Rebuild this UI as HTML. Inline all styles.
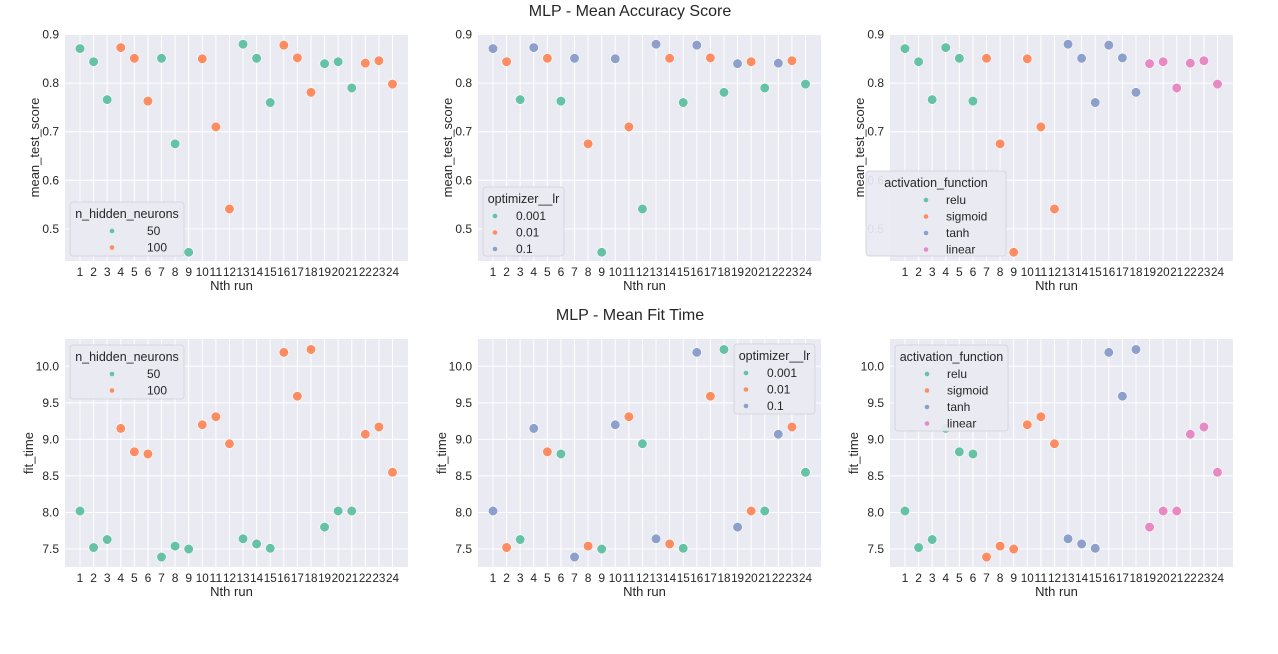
<!DOCTYPE html>
<html><head><meta charset="utf-8">
<style>
html,body{margin:0;padding:0;background:#fff;}
svg{display:block;font-family:"Liberation Sans",Arial,sans-serif;}
</style></head>
<body>
<svg id="fig" width="1278" height="654" viewBox="0 0 1278 654" xmlns="http://www.w3.org/2000/svg">
<text x="630" y="16" text-anchor="middle" font-size="16" fill="#262626">MLP - Mean Accuracy Score</text>
<text x="630" y="320" text-anchor="middle" font-size="16" fill="#262626">MLP - Mean Fit Time</text>
</svg>
<script>
const runs = [1,2,3,4,5,6,7,8,9,10,11,12,13,14,15,16,17,18,19,20,21,22,23,24];
const accuracy = [0.871,0.844,0.766,0.873,0.851,0.763,0.851,0.675,0.452,0.850,0.710,0.541,0.880,0.851,0.760,0.878,0.852,0.781,0.840,0.844,0.790,0.841,0.846,0.798];
const fitTime = [8.02,7.52,7.63,9.15,8.83,8.80,7.39,7.54,7.50,9.20,9.31,8.94,7.64,7.57,7.51,10.19,9.59,10.23,7.80,8.02,8.02,9.07,9.17,8.55];
const hiddenNeurons = [50,50,50,100,100,100,50,50,50,100,100,100,50,50,50,100,100,100,50,50,50,100,100,100];
const learningRate = [0.1,0.01,0.001,0.1,0.01,0.001,0.1,0.01,0.001,0.1,0.01,0.001,0.1,0.01,0.001,0.1,0.01,0.001,0.1,0.01,0.001,0.1,0.01,0.001];
const activation = ['relu','relu','relu','relu','relu','relu','sigmoid','sigmoid','sigmoid','sigmoid','sigmoid','sigmoid','tanh','tanh','tanh','tanh','tanh','tanh','linear','linear','linear','linear','linear','linear'];
const hiddenLevels = [50,100];
const lrLevels = [0.001,0.01,0.1];
const actLevels = ['relu','sigmoid','tanh','linear'];
const accTicks = [0.5,0.6,0.7,0.8,0.9];
const accTickLabels = ['0.5','0.6','0.7','0.8','0.9'];
const fitTicks = [7.5,8.0,8.5,9.0,9.5,10.0];
const fitTickLabels = ['7.5','8.0','8.5','9.0','9.5','10.0'];

const palette = ['#66c2a5','#fc8d62','#8da0cb','#e78ac3'];
const NS = 'http://www.w3.org/2000/svg';
const svg = document.getElementById('fig');
function mk(tag, attrs, parent){ const e=document.createElementNS(NS,tag); for(const k in attrs) e.setAttribute(k,attrs[k]); (parent||svg).appendChild(e); return e; }

function chart(cfg){
  const g = mk('g',{});
  
  
  const L=cfg.x0, R=cfg.x0+343, T=cfg.top, B=cfg.bottom;
  const bg = mk('rect',{x:L,y:T,width:R-L,height:B-T,fill:'#eaeaf2'},g);
  
  
  const xs = i => L+15 + (i)*(312.5/23);
  const ys = v => T + (cfg.ymax - v)/(cfg.ymax-cfg.ymin)*(B-T);
  runs.forEach((r,i)=>{ mk('line',{x1:xs(i),x2:xs(i),y1:T,y2:B,stroke:'#fff','stroke-width':1},g);
    const attrs={x:xs(i),y:B+15,'text-anchor':'middle','font-size':12,fill:'#262626'};
    if(r>=10){ attrs.textLength=13; attrs.lengthAdjust='spacingAndGlyphs'; }
    const t=mk('text',attrs,g); t.textContent=r;
    
     });
  cfg.ticks.forEach((v,i)=>{ mk('line',{x1:L,x2:R,y1:ys(v),y2:ys(v),stroke:'#fff','stroke-width':1},g);
    const t=mk('text',{x:L-6,y:ys(v)+4,'text-anchor':'end','font-size':12,fill:'#262626'},g); t.textContent=cfg.tickLabels[i];
    
     });
  const xl=mk('text',{x:(L+R)/2-5,y:B+29,'text-anchor':'middle','font-size':13,fill:'#262626'},g); xl.textContent='Nth run';
  
  
  const yx=L-cfg.ylabOff, yy=(T+B)/2;
  const yl=mk('text',{x:yx,y:yy,'text-anchor':'middle','font-size':13,fill:'#262626',transform:`rotate(-90 ${yx} ${yy})`},g); yl.textContent=cfg.ylabel;
  
  
  cfg.values.forEach((v,i)=>{
    const c = palette[cfg.levels.indexOf(cfg.hue[i])];
    const p=mk('circle',{cx:xs(i),cy:ys(v),r:4.8,fill:c,stroke:'#fff','stroke-width':0.6},g);
    
    
  });
  const lg=cfg.legend;
  const lgG=mk('g',{},g);
  
  
  mk('rect',{x:lg.x,y:lg.y,width:lg.w,height:lg.h,rx:3,fill:'#eaeaf2','fill-opacity':0.93,stroke:'#d0d0d8','stroke-width':0.8},lgG);
  const lt=mk('text',{x:lg.x+lg.w/2,y:lg.y+16,'text-anchor':'middle','font-size':12.5,fill:'#262626'},lgG); lt.textContent=cfg.hueTitle;
  
  
  cfg.levels.forEach((lv,k)=>{
    const yy=lg.y+33+k*16.5;
    mk('circle',{cx:lg.x+lg.dotX,cy:yy-4,r:2.3,fill:palette[k]},lgG);
    const e=mk('text',{x:lg.x+lg.textX,y:yy,'font-size':12,fill:'#262626'},lgG); e.textContent=String(lv);
    
    
  });
}
const accCfg={top:34,bottom:261,ymin:0.434,ymax:0.901,ticks:accTicks,tickLabels:accTickLabels,values:accuracy,ylabel:'mean_test_score',ylabOff:26};
const fitCfg={top:339,bottom:567,ymin:7.254,ymax:10.373,ticks:fitTicks,tickLabels:fitTickLabels,values:fitTime,ylabel:'fit_time',ylabOff:32};
chart(Object.assign({},accCfg,{name:'accuracy-by-hidden-neurons',x0:65,hue:hiddenNeurons,levels:hiddenLevels,hueTitle:'n_hidden_neurons',legend:{x:70,y:202,w:114,h:54,dotX:42,textX:77}}));
chart(Object.assign({},accCfg,{name:'accuracy-by-learning-rate',x0:478,hue:learningRate,levels:lrLevels,hueTitle:'optimizer__lr',legend:{x:483,y:187,w:81,h:69,dotX:12,textX:33}}));
chart(Object.assign({},accCfg,{name:'accuracy-by-activation',x0:890,hue:activation,levels:actLevels,hueTitle:'activation_function',legend:{x:866,y:171,w:140,h:85,dotX:60,textX:80}}));
chart(Object.assign({},fitCfg,{name:'fit-time-by-hidden-neurons',x0:65,hue:hiddenNeurons,levels:hiddenLevels,hueTitle:'n_hidden_neurons',legend:{x:70,y:345,w:114,h:54,dotX:42,textX:77}}));
chart(Object.assign({},fitCfg,{name:'fit-time-by-learning-rate',x0:478,hue:learningRate,levels:lrLevels,hueTitle:'optimizer__lr',legend:{x:734,y:344,w:81,h:70,dotX:12,textX:33}}));
chart(Object.assign({},fitCfg,{name:'fit-time-by-activation',x0:890,hue:activation,levels:actLevels,hueTitle:'activation_function',legend:{x:895,y:345,w:113,h:86,dotX:32,textX:52}}));
</script>
</body></html>
